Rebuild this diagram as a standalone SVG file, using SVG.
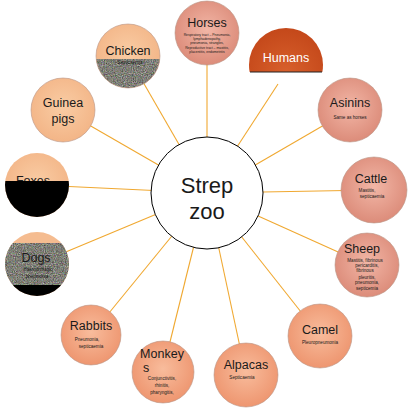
<svg xmlns="http://www.w3.org/2000/svg" width="416" height="413" viewBox="0 0 416 413">
<defs>
<radialGradient id="gRed" cx="50%" cy="45%" r="55%"><stop offset="0" stop-color="#F2B6A6"/><stop offset="1" stop-color="#DC8C7A"/></radialGradient>
<radialGradient id="gOrg" cx="50%" cy="45%" r="55%"><stop offset="0" stop-color="#F8BC9C"/><stop offset="1" stop-color="#EE9670"/></radialGradient>
<radialGradient id="gPch" cx="50%" cy="45%" r="55%"><stop offset="0" stop-color="#F9CCA4"/><stop offset="1" stop-color="#F3B587"/></radialGradient>
<radialGradient id="gHum" cx="50%" cy="60%" r="60%"><stop offset="0" stop-color="#D8602C"/><stop offset="1" stop-color="#C4481A"/></radialGradient>
<filter id="noise" x="0" y="0" width="100%" height="100%" color-interpolation-filters="sRGB">
<feTurbulence type="fractalNoise" baseFrequency="0.9" numOctaves="2" seed="3" result="n"/>
<feColorMatrix in="n" type="matrix" values="0.55 0.2 0.2 0 0.02  0.2 0.55 0.2 0 0.02  0.2 0.2 0.55 0 -0.01  0 0 0 0 1" result="c"/>
<feComposite in="c" in2="SourceGraphic" operator="in"/>
</filter>
<clipPath id="cChicken"><circle cx="128" cy="56" r="32"/></clipPath>
<clipPath id="cFoxes"><circle cx="37" cy="185" r="32"/></clipPath>
<clipPath id="cDogs"><circle cx="37" cy="264" r="32"/></clipPath>
<clipPath id="cHum"><rect x="240" y="0" width="100" height="72"/></clipPath>
</defs>
<style>
.lbl{font-family:"Liberation Sans",Arial,sans-serif;fill:#1a1a1a;text-anchor:middle}
.t{font-size:12.5px}
.s{font-size:4.6px}
.xs{font-size:3.4px}
.node{stroke:#B89484;stroke-width:0.6}
.con{stroke:#F0A830;stroke-width:1.1;fill:none}
</style>
<g id="connectors">
<line class="con" x1="207" y1="193" x2="207" y2="60"/>
<line class="con" x1="207" y1="193" x2="278" y2="84"/>
<line class="con" x1="207" y1="193" x2="350" y2="110"/>
<line class="con" x1="207" y1="193" x2="374" y2="190"/>
<line class="con" x1="207" y1="193" x2="367" y2="265"/>
<line class="con" x1="207" y1="193" x2="320" y2="336"/>
<line class="con" x1="207" y1="193" x2="246" y2="375"/>
<line class="con" x1="207" y1="193" x2="163" y2="370"/>
<line class="con" x1="207" y1="193" x2="91" y2="335"/>
<line class="con" x1="207" y1="193" x2="37" y2="264"/>
<line class="con" x1="207" y1="193" x2="37" y2="185"/>
<line class="con" x1="207" y1="193" x2="63" y2="110"/>
<line class="con" x1="207" y1="193" x2="128" y2="56"/>
</g>
<g id="center">
<circle cx="207" cy="193" r="56" fill="#fff" stroke="#000" stroke-width="1"/>
<text class="lbl" x="207" y="193" font-size="22">Strep</text>
<text class="lbl" x="207" y="219" font-size="22">zoo</text>
</g>
<g id="horses">
<circle class="node" cx="207" cy="33" r="32" fill="url(#gRed)"/>
<text class="lbl t" x="207" y="27">Horses</text>
<text class="lbl xs" x="207" y="36">Respiratory tract – Pneumonia,</text>
<text class="lbl xs" x="207" y="40">lymphadenopathy,</text>
<text class="lbl xs" x="207" y="44">pneumonia, strangles,</text>
<text class="lbl xs" x="207" y="49">Reproductive tract – mastitis,</text>
<text class="lbl xs" x="207" y="53">placentitis, endometritis</text>
</g>
<g id="humans">
<circle cx="286" cy="65" r="37" fill="url(#gHum)" clip-path="url(#cHum)"/>
<line x1="250" y1="72" x2="322" y2="72" stroke="#222" stroke-width="1.2"/>
<text class="lbl t" x="286" y="62" style="fill:#fff">Humans</text>
</g>
<g id="asinins">
<circle class="node" cx="350" cy="110" r="32" fill="url(#gRed)"/>
<text class="lbl t" x="350" y="107">Asinins</text>
<text class="lbl s" x="350" y="119">Same as horses</text>
</g>
<g id="cattle">
<circle class="node" cx="374" cy="190" r="33" fill="url(#gRed)"/>
<text class="lbl t" x="371" y="183">Cattle</text>
<text class="lbl s" x="367" y="192">Mastitis,</text>
<text class="lbl s" x="372" y="198">septicaemia</text>
</g>
<g id="sheep">
<circle class="node" cx="367" cy="265" r="32" fill="url(#gRed)"/>
<text class="lbl t" x="362" y="253">Sheep</text>
<text class="lbl s" x="365" y="262">Mastitis, fibrinous</text>
<text class="lbl s" x="367" y="267">pericarditis,</text>
<text class="lbl s" x="365" y="272">fibrinous</text>
<text class="lbl s" x="367" y="279">pleuritis,</text>
<text class="lbl s" x="367" y="284">pneumonia,</text>
<text class="lbl s" x="367" y="290">septicemia</text>
</g>
<g id="camel">
<circle class="node" cx="320" cy="336" r="32" fill="url(#gOrg)"/>
<text class="lbl t" x="320" y="334">Camel</text>
<text class="lbl s" x="320" y="344">Pleuropneumonia</text>
</g>
<g id="alpacas">
<circle class="node" cx="246" cy="375" r="32" fill="url(#gOrg)"/>
<text class="lbl t" x="246" y="369">Alpacas</text>
<text class="lbl s" x="242" y="379">Septicaemia</text>
</g>
<g id="monkeys">
<circle class="node" cx="163" cy="372" r="31" fill="url(#gOrg)"/>
<text class="lbl t" x="162" y="358">Monkey</text>
<text class="lbl t" x="146" y="372">s</text>
<text class="lbl s" x="162" y="380">Conjunctivitis,</text>
<text class="lbl s" x="162" y="387">rhinitis,</text>
<text class="lbl s" x="162" y="394">pharyngitis,</text>
</g>
<g id="rabbits">
<circle class="node" cx="91" cy="335" r="30" fill="url(#gOrg)"/>
<text class="lbl t" x="91" y="330">Rabbits</text>
<text class="lbl s" x="87" y="341">Pneumonia,</text>
<text class="lbl s" x="91" y="348">septicaemia</text>
</g>
<g id="dogs">
<g clip-path="url(#cDogs)">
<rect x="5" y="232" width="64" height="64" fill="#F5BC90"/>
<rect x="5" y="243" width="64" height="42" fill="#888" filter="url(#noise)"/>
<rect x="5" y="285" width="64" height="12" fill="#000"/>
</g>
<text class="lbl t" x="36" y="262">Dogs</text>
<text class="lbl s" x="38" y="271">Haemorrhagic</text>
<text class="lbl s" x="37" y="278">pneumonia</text>
</g>
<g id="foxes">
<g clip-path="url(#cFoxes)">
<rect x="5" y="153" width="64" height="64" fill="url(#gPch)"/>
</g>
<text class="lbl t" x="33" y="185">Foxes</text>
<g clip-path="url(#cFoxes)">
<rect x="5" y="181" width="64" height="40" fill="#000"/>
</g>
</g>
<g id="guineapigs">
<circle class="node" cx="63" cy="110" r="32" fill="url(#gPch)"/>
<text class="lbl t" x="63" y="107">Guinea</text>
<text class="lbl t" x="63" y="123">pigs</text>
</g>
<g id="chicken">
<g clip-path="url(#cChicken)">
<rect x="96" y="24" width="64" height="64" fill="url(#gPch)"/>
<rect x="96" y="59" width="64" height="30" fill="#888" filter="url(#noise)"/>
</g>
<circle cx="128" cy="56" r="32" fill="none" stroke="#B89484" stroke-width="0.6"/>
<text class="lbl t" x="128" y="55">Chicken</text>
<text class="lbl s" x="130" y="64">Septicaemia</text>
</g>
</svg>
